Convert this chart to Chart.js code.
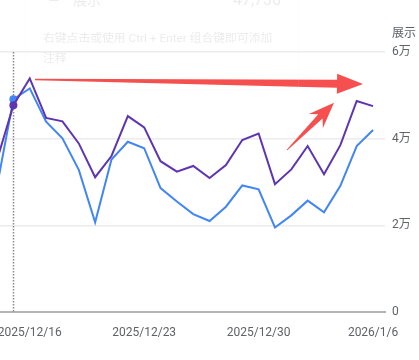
<!DOCTYPE html>
<html>
<head>
<meta charset="utf-8">
<script src="https://cdn.jsdelivr.net/npm/chart.js@4.4.1/dist/chart.umd.min.js"></script>
<style>
  html, body { margin: 0; padding: 0; background: #fff; overflow: hidden; }
  #wrap { position: relative; width: 419px; height: 360px; }
  #card {
    position: absolute; left: 25px; top: -30px; width: 272px; height: 118px;
    border: 1px solid #dadce0; border-radius: 6px; opacity: 0.1;
    font-family: Roboto, "Noto Sans CJK SC", sans-serif; color: #3c4043;
  }
  #card .icon { position: absolute; left: 23px; top: 24px; width: 10px; height: 6px; background: #5e35b1; border-radius: 1px; }
  #card .name { position: absolute; left: 47px; top: 20px; font-size: 14px; line-height: 18px; }
  #card .val { position: absolute; right: 17px; top: 19px; font-size: 16px; line-height: 20px; }
  #card .hint { position: absolute; left: 17px; top: 57px; font-size: 11.8px; line-height: 20px; white-space: nowrap; }
</style>
</head>
<body>
<div id="wrap">
  <canvas id="chart" width="419" height="360"></canvas>
  <div id="card">
    <div class="icon"></div>
    <div class="name">展示</div>
    <div class="val">47,736</div>
    <div class="hint">右键点击或使用 Ctrl + Enter 组合键即可添加<br>注释</div>
  </div>
</div>
<script>
// 日期（横轴）
const dates = [
  "2025/12/14", "2025/12/15", "2025/12/16", "2025/12/17", "2025/12/18", "2025/12/19",
  "2025/12/20", "2025/12/21", "2025/12/22", "2025/12/23", "2025/12/24", "2025/12/25",
  "2025/12/26", "2025/12/27", "2025/12/28", "2025/12/29", "2025/12/30", "2025/12/31",
  "2026/1/1", "2026/1/2", "2026/1/3", "2026/1/4", "2026/1/5", "2026/1/6"
];
// 展示（紫色）
const impressions = [35100, 47736, 53900, 44800, 44000, 38900, 31100, 36000, 45200, 42600, 34800, 32400,
  33700, 30900, 33900, 39700, 41200, 29500, 32900, 38300, 31800, 38500, 48700, 47500];
// 对比期（蓝色）
const compareValues = [29100, 49100, 51600, 43900, 40100, 32800, 20700, 35200, 39300, 37800, 28600, 25500,
  22600, 21000, 24300, 29200, 28300, 19500, 22300, 25700, 23000, 29100, 38300, 42000];

const xTickIndex = [2, 9, 16, 23];
const yTicks = [0, 20000, 40000, 60000];
const yTickLabels = ["0", "2万", "4万", "6万"];
const hoverIndex = 1;

const FONT = "Roboto, 'Noto Sans CJK SC', sans-serif";

function toPoints(arr) {
  return arr.map((v, i) => ({ x: i, y: v }));
}

function drawArrow(ctx, x0, y0, x1, y1, w0, w1, headLen, headW, notch) {
  const len = Math.hypot(x1 - x0, y1 - y0);
  const ux = (x1 - x0) / len, uy = (y1 - y0) / len;
  const px = -uy, py = ux;
  const bx = x1 - ux * headLen, by = y1 - uy * headLen;
  const nx = x1 - ux * headLen * notch, ny = y1 - uy * headLen * notch;
  ctx.beginPath();
  ctx.moveTo(x0 + px * w0 / 2, y0 + py * w0 / 2);
  ctx.lineTo(nx + px * w1 / 2, ny + py * w1 / 2);
  ctx.lineTo(bx + px * headW / 2, by + py * headW / 2);
  ctx.lineTo(x1, y1);
  ctx.lineTo(bx - px * headW / 2, by - py * headW / 2);
  ctx.lineTo(nx - px * w1 / 2, ny - py * w1 / 2);
  ctx.lineTo(x0 - px * w0 / 2, y0 - py * w0 / 2);
  ctx.closePath();
  ctx.fill();
}

const extras = {
  id: "extras",
  beforeDatasetsDraw(chart) {
    const { ctx, chartArea, scales } = chart;
    const x = Math.round(scales.x.getPixelForValue(hoverIndex)) + 0.5;
    ctx.save();
    ctx.strokeStyle = "#8a8a8a";
    ctx.lineWidth = 1.5;
    ctx.setLineDash([1.5, 1.5]);
    ctx.beginPath();
    ctx.moveTo(x, chartArea.top);
    ctx.lineTo(x, chartArea.bottom);
    ctx.stroke();
    ctx.restore();
  },
  afterDraw(chart) {
    const { ctx, chartArea } = chart;
    ctx.save();
    ctx.fillStyle = "#5f6368";
    ctx.font = "12px " + FONT;
    ctx.textBaseline = "middle";
    ctx.textAlign = "left";
    ctx.fillText("展示", chartArea.right + 7, chartArea.top - 18);

    // 标注箭头
    ctx.fillStyle = "#f5504f";
    drawArrow(ctx, 35, 79.5, 363, 84, 1.5, 8, 26, 20, 1);
    drawArrow(ctx, 287, 150, 334, 102.7, 1, 6, 25.7, 19.8, 0.75);
    ctx.restore();
  }
};

new Chart(document.getElementById("chart"), {
  type: "line",
  data: {
    datasets: [
      {
        label: "展示",
        data: toPoints(impressions),
        borderColor: "#5e35b1",
        backgroundColor: "#5e35b1",
        pointRadius: c => (c.dataIndex === hoverIndex ? 4 : 0)
      },
      {
        label: "对比期",
        data: toPoints(compareValues),
        borderColor: "#4285f4",
        backgroundColor: "#4285f4",
        pointRadius: c => (c.dataIndex === hoverIndex ? 4 : 0)
      }
    ]
  },
  options: {
    responsive: false,
    animation: false,
    layout: { padding: { top: 52, left: 0, right: 0, bottom: 0 } },
    plugins: { legend: { display: false }, tooltip: { enabled: false } },
    elements: {
      line: { tension: 0, borderWidth: 2 },
      point: { borderWidth: 0, hoverRadius: 0 }
    },
    scales: {
      x: {
        type: "linear",
        min: 0.18,
        max: 23.73,
        grid: { display: false, drawTicks: false },
        border: { display: true, color: "#b4b4b4", width: 2 },
        afterBuildTicks: s => { s.ticks = xTickIndex.map(v => ({ value: v })); },
        ticks: {
          autoSkip: false,
          maxRotation: 0,
          padding: 14,
          color: "#5f6368",
          font: { family: FONT, size: 12 },
          callback: v => dates[v]
        },
        afterFit: s => { s.height = 48; s.paddingLeft = 0; s.paddingRight = 0; }
      },
      y: {
        position: "right",
        min: 0,
        max: 60000,
        grid: { color: "#ececec", lineWidth: 1.5, drawTicks: false },
        border: { display: false },
        afterBuildTicks: s => { s.ticks = yTicks.map(v => ({ value: v })); },
        ticks: {
          padding: 7,
          color: "#5f6368",
          font: { family: FONT, size: 12 },
          callback: (v) => yTickLabels[yTicks.indexOf(v)]
        },
        afterFit: s => { s.width = 34; s.paddingTop = 0; s.paddingBottom = 0; }
      }
    }
  },
  plugins: [extras]
});
</script>
</body>
</html>
